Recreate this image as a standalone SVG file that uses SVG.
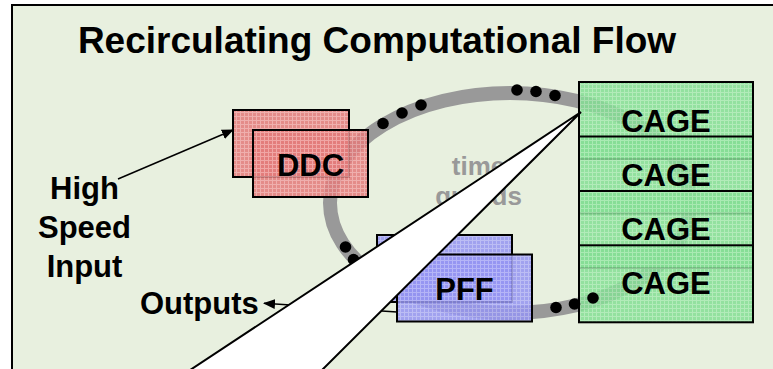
<svg xmlns="http://www.w3.org/2000/svg" width="773" height="369" viewBox="0 0 773 369">
  <defs>
    <!-- fine woven texture used by the block fills -->
    <pattern id="meshRed" width="4" height="4" patternUnits="userSpaceOnUse">
      <rect width="4" height="4" fill="#E37A7A"/>
      <path d="M0 0.5H4M0.5 0V4" stroke="#F0A4A4" stroke-width="1"/>
    </pattern>
    <pattern id="meshBlue" width="4" height="4" patternUnits="userSpaceOnUse">
      <rect width="4" height="4" fill="#9494F2"/>
      <path d="M0 0.5H4M0.5 0V4" stroke="#B4B4F8" stroke-width="1"/>
    </pattern>
    <pattern id="meshGreen" width="4" height="4" patternUnits="userSpaceOnUse">
      <rect width="4" height="4" fill="#84DE94"/>
      <path d="M0 0.5H4M0.5 0V4" stroke="#A8EAB2" stroke-width="1"/>
    </pattern>
    <marker id="arrowHead" viewBox="0 0 12 10" refX="11" refY="5" markerWidth="12" markerHeight="10" markerUnits="userSpaceOnUse" orient="auto">
      <path d="M0 0L12 5L0 10Z" fill="#000"/>
    </marker>
  </defs>
  <style>
    .lbl { font-family: "Liberation Sans", Arial, sans-serif; font-weight: bold; fill: #000; }
    .box { stroke: #000; stroke-width: 2; fill-opacity: 0.85; }
    .red { fill: url(#meshRed); }
    .blue { fill: url(#meshBlue); }
    .green { fill: url(#meshGreen); }
    .dot { fill: #000; }
    .wire { stroke: #000; stroke-width: 1.5; fill: none; }
    .faint { font-family: "Liberation Sans", Arial, sans-serif; font-weight: bold; font-size: 26px; fill: #999999; }
  </style>

  <!-- frame -->
  <rect x="0" y="0" width="773" height="369" fill="#FFFFFF"/>
  <rect x="12" y="5" width="770" height="380" fill="#E8F0DF"/>
  <path d="M12 369V5H773" fill="none" stroke="#000" stroke-width="2"/>

  <text class="lbl" x="377" y="53" font-size="37" text-anchor="middle">Recirculating Computational Flow</text>

  <!-- recirculation ring -->
  <g id="ring">
    <ellipse cx="510" cy="203" rx="180" ry="110" fill="none" stroke="#999999" stroke-width="14"/>
    <text class="faint" x="478.5" y="175" text-anchor="middle">time</text>
    <text class="faint" x="478.5" y="205" text-anchor="middle">guards</text>
  </g>

  <g id="ddc">
    <rect class="box red" x="233" y="110" width="116" height="67"/>
    <rect class="box red" x="253" y="130" width="115" height="67"/>
    <text class="lbl" x="310.5" y="175.5" font-size="31" text-anchor="middle">DDC</text>
  </g>

  <g id="pff">
    <rect class="box blue" x="377" y="235" width="135" height="67"/>
    <rect class="box blue" x="397" y="254.5" width="135" height="67"/>
    <text class="lbl" x="464.5" y="300" font-size="31" text-anchor="middle">PFF</text>
  </g>

  <g id="cage1">
    <rect class="box green" x="579" y="82" width="174" height="77"/>
    <text class="lbl" x="666" y="131.5" font-size="31" text-anchor="middle">CAGE</text>
  </g>
  <g id="cage2">
    <rect class="box green" x="579" y="136.5" width="174" height="77"/>
    <text class="lbl" x="666" y="185.5" font-size="31" text-anchor="middle">CAGE</text>
  </g>
  <g id="cage3">
    <rect class="box green" x="579" y="191" width="174" height="77"/>
    <text class="lbl" x="666" y="239.5" font-size="31" text-anchor="middle">CAGE</text>
  </g>
  <g id="cage4">
    <rect class="box green" x="579" y="245.3" width="174" height="77"/>
    <text class="lbl" x="666" y="294" font-size="31" text-anchor="middle">CAGE</text>
  </g>

  <!-- tokens travelling round the ring -->
  <g id="tokens">
    <circle class="dot" cx="383" cy="123.5" r="5.8"/>
    <circle class="dot" cx="402" cy="113" r="5.8"/>
    <circle class="dot" cx="421" cy="105" r="5.8"/>
    <circle class="dot" cx="517" cy="90" r="5.8"/>
    <circle class="dot" cx="536" cy="91.5" r="5.8"/>
    <circle class="dot" cx="555" cy="95.5" r="5.8"/>
    <circle class="dot" cx="345.5" cy="247" r="5.8"/>
    <circle class="dot" cx="353.5" cy="259.5" r="5.8"/>
    <circle class="dot" cx="556" cy="307.5" r="5.8"/>
    <circle class="dot" cx="574.5" cy="304" r="5.8"/>
    <circle class="dot" cx="593" cy="298" r="5.8"/>
  </g>

  <g id="input">
    <text class="lbl" x="84.5" y="199" font-size="31" text-anchor="middle">High</text>
    <text class="lbl" x="84.5" y="237.5" font-size="31" text-anchor="middle">Speed</text>
    <text class="lbl" x="84.5" y="276.5" font-size="31" text-anchor="middle">Input</text>
  </g>

  <g id="outputs">
    <text class="lbl" x="140" y="314" font-size="31">Outputs</text>
  </g>

  <g id="connectors">
    <line class="wire" x1="118" y1="179" x2="233" y2="130" marker-end="url(#arrowHead)"/>
    <line class="wire" x1="397" y1="312" x2="264" y2="303.3" marker-end="url(#arrowHead)"/>
  </g>

  <!-- zoom callout wedge -->
  <polygon points="581,112 175,380 312,380" fill="#FFFFFF" stroke="#000" stroke-width="2" stroke-linejoin="miter"/>
</svg>
